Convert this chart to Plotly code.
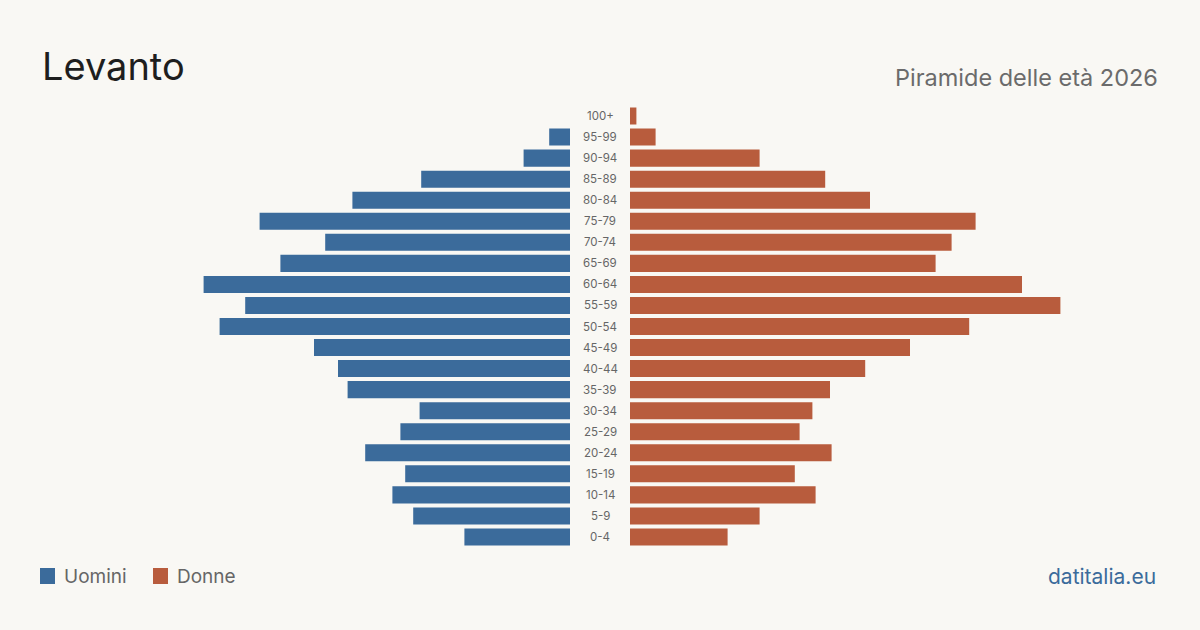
import plotly.graph_objects as go

age_groups = ["0-4", "5-9", "10-14", "15-19", "20-24", "25-29", "30-34", "35-39",
              "40-44", "45-49", "50-54", "55-59", "60-64", "65-69", "70-74", "75-79",
              "80-84", "85-89", "90-94", "95-99", "100+"]
men = [66, 98, 111, 103, 128, 106, 94, 139, 145, 160, 219, 203, 229, 181, 153, 194,
       136, 93, 29, 13, 0]
women = [61, 81, 116, 103, 126, 106, 114, 125, 147, 175, 212, 269, 245, 191, 201, 216,
         150, 122, 81, 16, 4]

BLUE = "#3b6b9b"
ORANGE = "#b85c3d"
BG = "#f9f8f4"
FONT = "Inter, 'Noto Sans', sans-serif"

max_range = 331.25

fig = go.Figure()
fig.add_trace(go.Bar(y=age_groups, x=men, orientation="h", marker_color=BLUE,
                     marker_line_width=0,
                     xaxis="x", yaxis="y", name="Uomini", showlegend=False,
                     hoverinfo="x+y"))
fig.add_trace(go.Bar(y=age_groups, x=women, orientation="h", marker_color=ORANGE,
                     marker_line_width=0,
                     xaxis="x2", yaxis="y", name="Donne", showlegend=False,
                     hoverinfo="x+y"))

y0 = 1 - 547.5 / 630
y1 = 1 - 105.5 / 630

annotations = []
for g in age_groups:
    annotations.append(dict(x=0.5, xref="paper", y=g, yref="y", text=g,
                            showarrow=False, xanchor="center", yanchor="middle",
                            font=dict(family=FONT, size=11.5, color="#666")))

annotations += [
    dict(x=40 / 1200, y=1 - 66 / 630, xref="paper", yref="paper", text="Levanto",
         showarrow=False, xanchor="left", yanchor="middle",
         font=dict(family=FONT, size=38, color="#1e1e1e")),
    dict(x=1160 / 1200, y=1 - 77 / 630, xref="paper", yref="paper",
         text="Piramide delle età 2026", showarrow=False, xanchor="right",
         yanchor="middle", font=dict(family=FONT, size=23.5, color="#6b6b6b")),
    dict(x=62 / 1200, y=1 - 576 / 630, xref="paper", yref="paper", text="Uomini",
         showarrow=False, xanchor="left", yanchor="middle",
         font=dict(family=FONT, size=19, color="#666")),
    dict(x=175 / 1200, y=1 - 576 / 630, xref="paper", yref="paper", text="Donne",
         showarrow=False, xanchor="left", yanchor="middle",
         font=dict(family=FONT, size=19, color="#666")),
    dict(x=1158 / 1200, y=1 - 576 / 630, xref="paper", yref="paper",
         text="datitalia.eu", showarrow=False, xanchor="right", yanchor="middle",
         font=dict(family=FONT, size=21, color="#3b6b9b")),
]

shapes = [
    dict(type="rect", xref="paper", yref="paper", x0=40 / 1200, x1=55 / 1200,
         y0=1 - 584 / 630, y1=1 - 568 / 630, fillcolor=BLUE, line_width=0),
    dict(type="rect", xref="paper", yref="paper", x0=153 / 1200, x1=168 / 1200,
         y0=1 - 584 / 630, y1=1 - 568 / 630, fillcolor=ORANGE, line_width=0),
]

fig.update_layout(
    width=1200, height=630,
    margin=dict(l=0, r=0, t=0, b=0),
    paper_bgcolor=BG, plot_bgcolor=BG,
    bargap=0.19,
    xaxis=dict(domain=[40 / 1200, 570 / 1200], range=[max_range, 0],
               showgrid=False, zeroline=False, showticklabels=False,
               fixedrange=True),
    xaxis2=dict(domain=[630 / 1200, 1160 / 1200], range=[0, max_range],
                showgrid=False, zeroline=False, showticklabels=False,
                fixedrange=True),
    yaxis=dict(domain=[y0, y1], categoryorder="array", categoryarray=age_groups,
               range=[-0.5, len(age_groups) - 0.5],
               showgrid=False, zeroline=False, showticklabels=False,
               fixedrange=True),
    annotations=annotations,
    shapes=shapes,
    showlegend=False,
)

fig.write_html("out.html")
